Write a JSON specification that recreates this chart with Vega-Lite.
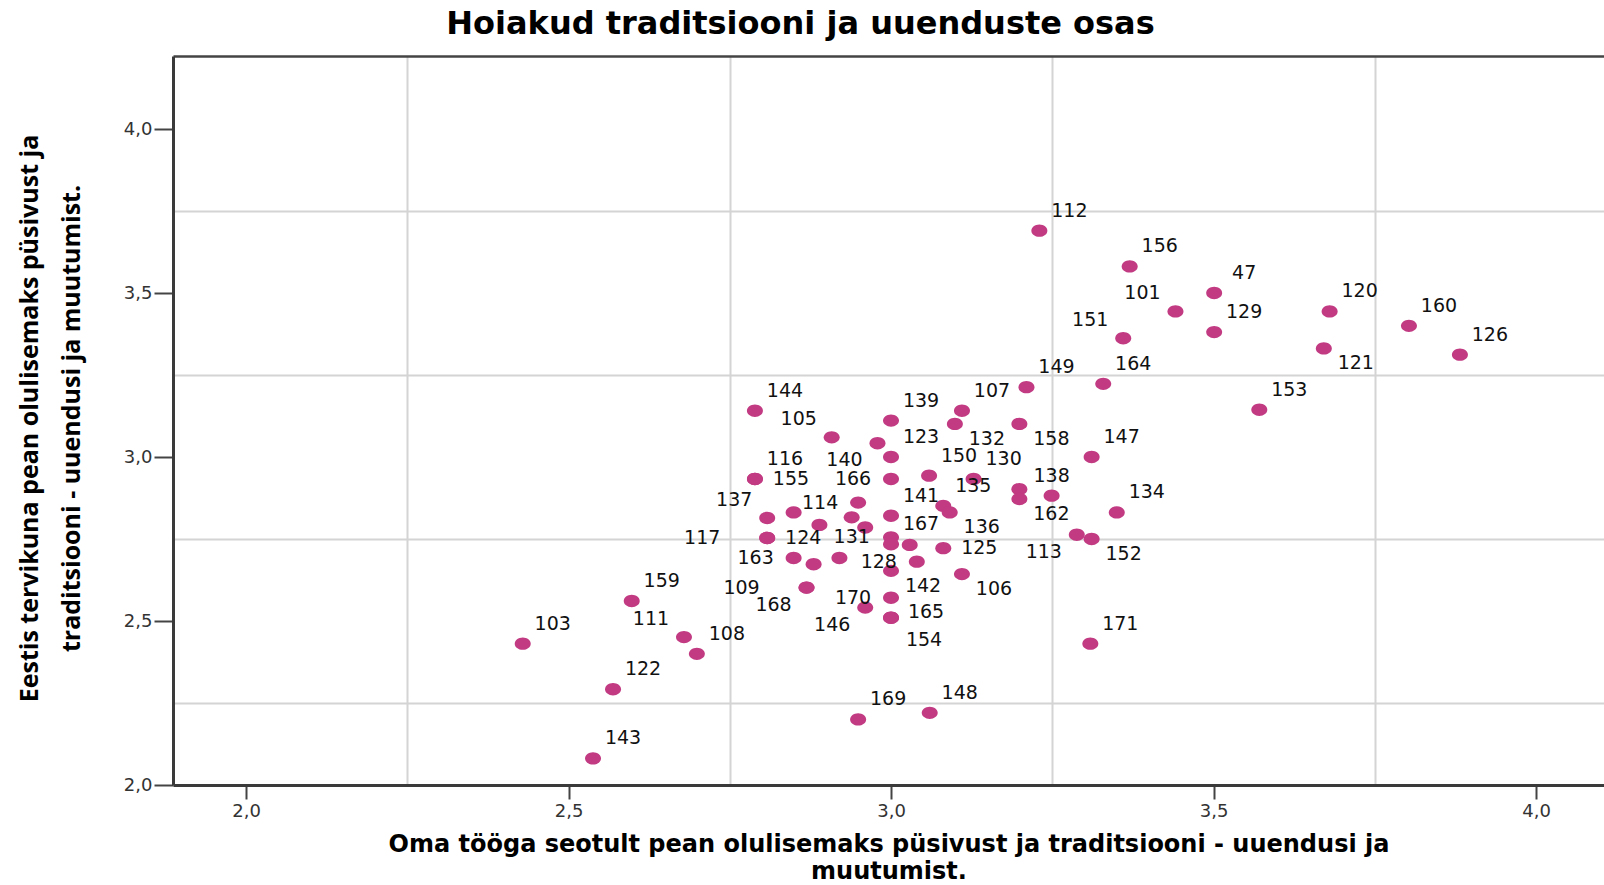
{
  "$schema": "https://vega.github.io/schema/vega-lite/v6.json",
  "autosize": {"type": "none"},
  "width": 1431,
  "height": 729,
  "padding": {"left": 173, "top": 56, "right": 0, "bottom": 100},
  "background": "white",
  "config": {"view": {"stroke": null}},
  "title": {
    "text": "Hoiakud traditsiooni ja uuenduste osas",
    "font": "DejaVu Sans", "fontSize": 32, "fontWeight": "bold", "color": "#000000",
    "anchor": "middle", "frame": "group", "dx": -88, "offset": -10, "baseline": "alphabetic"
  },
  "data": {"values": [
    {"id": "112", "x": 3.230, "y": 3.690, "pos": "UR"},
    {"id": "156", "x": 3.370, "y": 3.581, "pos": "UR"},
    {"id": "47", "x": 3.501, "y": 3.500, "pos": "UR"},
    {"id": "101", "x": 3.441, "y": 3.444, "pos": "UL"},
    {"id": "129", "x": 3.501, "y": 3.381, "pos": "UR"},
    {"id": "120", "x": 3.680, "y": 3.444, "pos": "UR"},
    {"id": "160", "x": 3.803, "y": 3.400, "pos": "UR"},
    {"id": "126", "x": 3.882, "y": 3.312, "pos": "UR"},
    {"id": "121", "x": 3.671, "y": 3.331, "pos": "LR"},
    {"id": "151", "x": 3.360, "y": 3.362, "pos": "UL"},
    {"id": "164", "x": 3.329, "y": 3.223, "pos": "UR"},
    {"id": "149", "x": 3.210, "y": 3.213, "pos": "UR"},
    {"id": "153", "x": 3.571, "y": 3.144, "pos": "UR"},
    {"id": "171", "x": 3.309, "y": 2.431, "pos": "UR"},
    {"id": "147", "x": 3.311, "y": 3.000, "pos": "UR"},
    {"id": "134", "x": 3.350, "y": 2.831, "pos": "UR"},
    {"id": "144", "x": 2.789, "y": 3.141, "pos": "UR"},
    {"id": "105", "x": 2.908, "y": 3.060, "pos": "UL"},
    {"id": "139", "x": 3.000, "y": 3.111, "pos": "UR"},
    {"id": "107", "x": 3.110, "y": 3.141, "pos": "UR"},
    {"id": "132", "x": 3.099, "y": 3.101, "pos": "LR"},
    {"id": "158", "x": 3.199, "y": 3.101, "pos": "LR"},
    {"id": "140", "x": 2.979, "y": 3.042, "pos": "LL"},
    {"id": "123", "x": 3.000, "y": 3.000, "pos": "UR"},
    {"id": "116", "x": 2.789, "y": 2.933, "pos": "UR"},
    {"id": "155", "x": 2.789, "y": 2.933, "pos": "R"},
    {"id": "166", "x": 3.000, "y": 2.933, "pos": "L"},
    {"id": "150", "x": 3.059, "y": 2.943, "pos": "UR"},
    {"id": "130", "x": 3.128, "y": 2.933, "pos": "UR"},
    {"id": "", "x": 3.199, "y": 2.902, "pos": "none"},
    {"id": "162", "x": 3.199, "y": 2.872, "pos": "LR"},
    {"id": "138", "x": 3.249, "y": 2.882, "pos": "U"},
    {"id": "114", "x": 2.949, "y": 2.861, "pos": "L"},
    {"id": "", "x": 2.849, "y": 2.831, "pos": "none"},
    {"id": "137", "x": 2.808, "y": 2.814, "pos": "UL"},
    {"id": "", "x": 2.889, "y": 2.793, "pos": "none"},
    {"id": "131", "x": 2.939, "y": 2.816, "pos": "D"},
    {"id": "", "x": 2.960, "y": 2.785, "pos": "none"},
    {"id": "141", "x": 3.000, "y": 2.821, "pos": "UR"},
    {"id": "135", "x": 3.081, "y": 2.851, "pos": "UR"},
    {"id": "136", "x": 3.091, "y": 2.831, "pos": "LR"},
    {"id": "124", "x": 2.808, "y": 2.753, "pos": "R"},
    {"id": "117", "x": 2.808, "y": 2.753, "pos": "FL"},
    {"id": "", "x": 3.000, "y": 2.755, "pos": "none"},
    {"id": "167", "x": 3.000, "y": 2.734, "pos": "UR"},
    {"id": "", "x": 3.029, "y": 2.732, "pos": "none"},
    {"id": "125", "x": 3.081, "y": 2.722, "pos": "R"},
    {"id": "113", "x": 3.288, "y": 2.763, "pos": "LL"},
    {"id": "152", "x": 3.311, "y": 2.750, "pos": "LR"},
    {"id": "163", "x": 2.849, "y": 2.692, "pos": "L"},
    {"id": "", "x": 2.880, "y": 2.673, "pos": "none"},
    {"id": "", "x": 2.920, "y": 2.692, "pos": "none"},
    {"id": "128", "x": 3.040, "y": 2.681, "pos": "L"},
    {"id": "142", "x": 3.000, "y": 2.653, "pos": "LR"},
    {"id": "106", "x": 3.110, "y": 2.643, "pos": "LR"},
    {"id": "168", "x": 2.869, "y": 2.602, "pos": "LL"},
    {"id": "109", "x": 2.869, "y": 2.602, "pos": "FL"},
    {"id": "170", "x": 3.000, "y": 2.571, "pos": "L"},
    {"id": "146", "x": 2.960, "y": 2.541, "pos": "LL"},
    {"id": "165", "x": 3.000, "y": 2.510, "pos": "UR2"},
    {"id": "154", "x": 3.000, "y": 2.510, "pos": "LR2"},
    {"id": "159", "x": 2.598, "y": 2.561, "pos": "UR"},
    {"id": "103", "x": 2.429, "y": 2.431, "pos": "UR"},
    {"id": "111", "x": 2.679, "y": 2.451, "pos": "UL"},
    {"id": "108", "x": 2.699, "y": 2.400, "pos": "UR"},
    {"id": "122", "x": 2.569, "y": 2.292, "pos": "UR"},
    {"id": "143", "x": 2.538, "y": 2.081, "pos": "UR"},
    {"id": "169", "x": 2.949, "y": 2.200, "pos": "UR"},
    {"id": "148", "x": 3.060, "y": 2.220, "pos": "UR"}
  ]},
  "layer": [
    {
      "mark": {"type": "point", "shape": "M-1,0A1,0.77,0,1,1,1,0A1,0.77,0,1,1,-1,0Z", "filled": true, "size": 256, "color": "#C13A82", "opacity": 1, "strokeWidth": 0},
      "encoding": {
        "x": {"field": "x", "type": "quantitative",
          "scale": {"domain": [1.8868, 4.1054], "zero": false, "nice": false},
          "axis": {"orient": "bottom", "values": [2, 2.5, 3, 3.5, 4], "grid": false,
            "labelExpr": "replace(format(datum.value, '.1f'), '.', ',')",
            "labelFont": "DejaVu Sans", "labelFontSize": 18, "labelColor": "#333333", "labelPadding": 3,
            "tickSize": 14, "tickWidth": 2, "tickColor": "#444444",
            "domainColor": "#3a3a3a", "domainWidth": 3,
            "title": ["Oma tööga seotult pean olulisemaks püsivust ja traditsiooni - uuendusi ja", "muutumist."],
            "titleFont": "DejaVu Sans", "titleFontSize": 24, "titleFontWeight": "bold", "titleColor": "#000000",
            "titleLineHeight": 27, "titleBaseline": "alphabetic", "titleY": 66}},
        "y": {"field": "y", "type": "quantitative",
          "scale": {"domain": [2.0, 4.2226], "zero": false, "nice": false},
          "axis": {"orient": "left", "values": [2, 2.5, 3, 3.5, 4], "grid": false,
            "labelExpr": "replace(format(datum.value, '.1f'), '.', ',')",
            "labelFont": "DejaVu Sans", "labelFontSize": 18, "labelColor": "#333333", "labelPadding": 2,
            "tickSize": 19, "tickWidth": 2, "tickColor": "#444444",
            "domainColor": "#3a3a3a", "domainWidth": 3,
            "title": ["Eestis tervikuna pean olulisemaks püsivust ja", "traditsiooni - uuendusi ja muutumist."],
            "titleFont": "Open Sans", "titleFontSize": 25, "titleFontWeight": "bold", "titleColor": "#000000",
            "titleLineHeight": 42, "titleBaseline": "alphabetic", "titleX": -136, "titleY": 362}}
      }
    },
    {
      "transform": [{"filter": "datum.pos === 'UR'"}],
      "mark": {"type": "text", "dx": 30, "dy": -20, "align": "center", "baseline": "middle", "font": "DejaVu Sans", "fontSize": 19, "color": "#111111"},
      "encoding": {
        "x": {"field": "x", "type": "quantitative",
          "axis": {"orient": "top", "values": [2.25, 2.75, 3.25, 3.75], "grid": true, "gridColor": "#d4d4d4", "gridWidth": 2,
            "ticks": false, "labels": false, "domain": true, "domainColor": "#444444", "domainWidth": 2.5, "title": null}},
        "y": {"field": "y", "type": "quantitative",
          "axis": {"orient": "right", "values": [2.25, 2.75, 3.25, 3.75], "grid": true, "gridColor": "#d4d4d4", "gridWidth": 2,
            "ticks": false, "labels": false, "domain": false, "title": null}},
        "text": {"field": "id"}
      }
    },
    {
      "transform": [{"filter": "datum.pos === 'UL'"}],
      "mark": {"type": "text", "dx": -33, "dy": -18, "align": "center", "baseline": "middle", "font": "DejaVu Sans", "fontSize": 19, "color": "#111111"},
      "encoding": {"x": {"field": "x", "type": "quantitative", "axis": null}, "y": {"field": "y", "type": "quantitative", "axis": null}, "text": {"field": "id"}}
    },
    {
      "transform": [{"filter": "datum.pos === 'LR'"}],
      "mark": {"type": "text", "dx": 32, "dy": 15, "align": "center", "baseline": "middle", "font": "DejaVu Sans", "fontSize": 19, "color": "#111111"},
      "encoding": {"x": {"field": "x", "type": "quantitative", "axis": null}, "y": {"field": "y", "type": "quantitative", "axis": null}, "text": {"field": "id"}}
    },
    {
      "transform": [{"filter": "datum.pos === 'LL'"}],
      "mark": {"type": "text", "dx": -33, "dy": 17, "align": "center", "baseline": "middle", "font": "DejaVu Sans", "fontSize": 19, "color": "#111111"},
      "encoding": {"x": {"field": "x", "type": "quantitative", "axis": null}, "y": {"field": "y", "type": "quantitative", "axis": null}, "text": {"field": "id"}}
    },
    {
      "transform": [{"filter": "datum.pos === 'R'"}],
      "mark": {"type": "text", "dx": 36, "dy": 0, "align": "center", "baseline": "middle", "font": "DejaVu Sans", "fontSize": 19, "color": "#111111"},
      "encoding": {"x": {"field": "x", "type": "quantitative", "axis": null}, "y": {"field": "y", "type": "quantitative", "axis": null}, "text": {"field": "id"}}
    },
    {
      "transform": [{"filter": "datum.pos === 'L'"}],
      "mark": {"type": "text", "dx": -38, "dy": 0, "align": "center", "baseline": "middle", "font": "DejaVu Sans", "fontSize": 19, "color": "#111111"},
      "encoding": {"x": {"field": "x", "type": "quantitative", "axis": null}, "y": {"field": "y", "type": "quantitative", "axis": null}, "text": {"field": "id"}}
    },
    {
      "transform": [{"filter": "datum.pos === 'U'"}],
      "mark": {"type": "text", "dx": 0, "dy": -20, "align": "center", "baseline": "middle", "font": "DejaVu Sans", "fontSize": 19, "color": "#111111"},
      "encoding": {"x": {"field": "x", "type": "quantitative", "axis": null}, "y": {"field": "y", "type": "quantitative", "axis": null}, "text": {"field": "id"}}
    },
    {
      "transform": [{"filter": "datum.pos === 'D'"}],
      "mark": {"type": "text", "dx": 0, "dy": 20, "align": "center", "baseline": "middle", "font": "DejaVu Sans", "fontSize": 19, "color": "#111111"},
      "encoding": {"x": {"field": "x", "type": "quantitative", "axis": null}, "y": {"field": "y", "type": "quantitative", "axis": null}, "text": {"field": "id"}}
    },
    {
      "transform": [{"filter": "datum.pos === 'FL'"}],
      "mark": {"type": "text", "dx": -65, "dy": 0, "align": "center", "baseline": "middle", "font": "DejaVu Sans", "fontSize": 19, "color": "#111111"},
      "encoding": {"x": {"field": "x", "type": "quantitative", "axis": null}, "y": {"field": "y", "type": "quantitative", "axis": null}, "text": {"field": "id"}}
    },
    {
      "transform": [{"filter": "datum.pos === 'UR2'"}],
      "mark": {"type": "text", "dx": 35, "dy": -6, "align": "center", "baseline": "middle", "font": "DejaVu Sans", "fontSize": 19, "color": "#111111"},
      "encoding": {"x": {"field": "x", "type": "quantitative", "axis": null}, "y": {"field": "y", "type": "quantitative", "axis": null}, "text": {"field": "id"}}
    },
    {
      "transform": [{"filter": "datum.pos === 'LR2'"}],
      "mark": {"type": "text", "dx": 33, "dy": 22, "align": "center", "baseline": "middle", "font": "DejaVu Sans", "fontSize": 19, "color": "#111111"},
      "encoding": {"x": {"field": "x", "type": "quantitative", "axis": null}, "y": {"field": "y", "type": "quantitative", "axis": null}, "text": {"field": "id"}}
    }
  ],
  "resolve": {"axis": {"x": "independent", "y": "independent"}}
}
